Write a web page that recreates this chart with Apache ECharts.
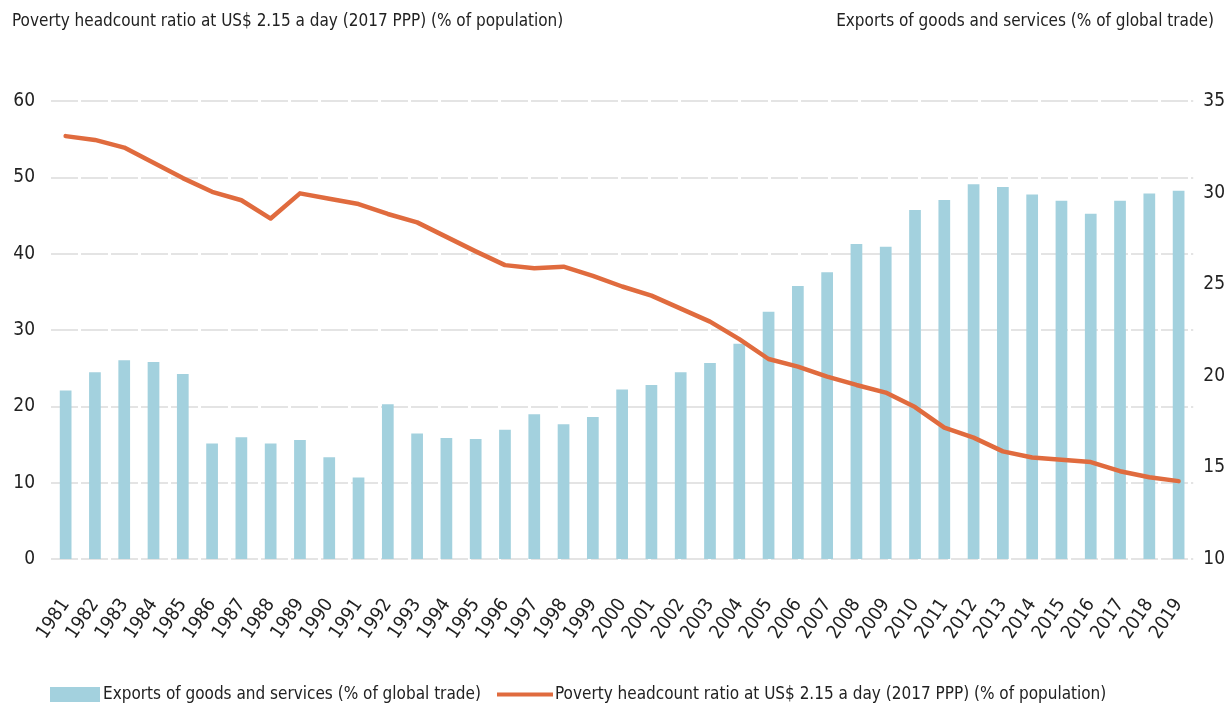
<!DOCTYPE html>
<html>
<head>
<meta charset="utf-8">
<title>Poverty and exports</title>
<script src="https://cdn.jsdelivr.net/npm/echarts@6/dist/echarts.min.js"></script>
<style>
  html, body { margin: 0; padding: 0; background: #fff; }
  #main { width: 1228px; height: 710px; }
</style>
</head>
<body>
<div id="main"></div>
<script>
var years = ['1981','1982','1983','1984','1985','1986','1987','1988','1989','1990',
  '1991','1992','1993','1994','1995','1996','1997','1998','1999','2000',
  '2001','2002','2003','2004','2005','2006','2007','2008','2009','2010',
  '2011','2012','2013','2014','2015','2016','2017','2018','2019'];

// exports of goods and services, % of global trade (right axis)
var exportsShare = [19.2, 20.2, 20.85, 20.75, 20.1, 16.3, 16.65, 16.3, 16.5, 15.55,
  14.45, 18.45, 16.85, 16.6, 16.55, 17.05, 17.9, 17.35, 17.75, 19.25,
  19.5, 20.2, 20.7, 21.75, 23.5, 24.9, 25.65, 27.2, 27.05, 29.05,
  29.6, 30.45, 30.3, 29.9, 29.55, 28.85, 29.55, 29.95, 30.1];

// poverty headcount ratio at US$ 2.15 a day, % of population (left axis)
var poverty = [55.4, 54.9, 53.9, 51.9, 49.9, 48.1, 47.0, 44.6, 47.9, 47.2,
  46.5, 45.2, 44.1, 42.2, 40.3, 38.5, 38.1, 38.3, 37.1, 35.7,
  34.5, 32.8, 31.1, 28.8, 26.2, 25.2, 23.9, 22.8, 21.8, 19.9,
  17.2, 15.9, 14.1, 13.3, 13.0, 12.7, 11.5, 10.7, 10.2];

var leftTicks = { min: 0, max: 60, interval: 10 };
var rightTicks = { min: 10, max: 35, interval: 5 };

var exportsName = 'Exports of goods and services (% of global trade)';
var povertyName = 'Poverty headcount ratio at US$ 2.15 a day (2017 PPP) (% of population)';

var font = '"Liberation Sans Narrow", "DejaVu Sans Condensed", "Liberation Sans", sans-serif';
var barColor = '#a3d1de';
var lineColor = '#e06b3e';

var myChart = echarts.init(document.getElementById('main'));
myChart.setOption({
  animation: false,
  textStyle: { fontFamily: font },
  title: [{
    text: povertyName,
    left: 7, top: 8,
    textStyle: { fontFamily: font, fontSize: 17, fontWeight: 'normal', color: '#222' }
  }, {
    text: exportsName,
    right: 9, top: 8,
    textStyle: { fontFamily: font, fontSize: 17, fontWeight: 'normal', color: '#222' }
  }],
  legend: [{
    data: [{ name: exportsName, icon: 'rect' }],
    left: 45, top: 681,
    itemWidth: 50, itemHeight: 15, itemGap: 0,
    textStyle: { fontFamily: font, fontSize: 17, color: '#222', padding: [0, 0, 0, -2] }
  }, {
    data: [{ name: povertyName, icon: 'rect' }],
    left: 492, top: 681,
    itemWidth: 56, itemHeight: 4, itemGap: 0,
    textStyle: { fontFamily: font, fontSize: 17, color: '#222', padding: [0, 0, 0, -3] }
  }],
  grid: { left: 51, right: 34, top: 101, bottom: 151, containLabel: false },
  xAxis: {
    type: 'category',
    data: years,
    boundaryGap: true,
    axisLine: { show: false },
    axisTick: { show: false },
    axisLabel: { rotate: 56, margin: 42, fontSize: 19, color: '#222', interval: 0 }
  },
  yAxis: [{
    type: 'value',
    position: 'left',
    min: leftTicks.min, max: leftTicks.max, interval: leftTicks.interval,
    axisLine: { show: false },
    axisTick: { show: false },
    axisLabel: { margin: 16, fontSize: 19, color: '#222' },
    splitLine: { lineStyle: { color: '#dcdcdc', width: 1.5, type: [27, 3] } }
  }, {
    type: 'value',
    position: 'right',
    min: rightTicks.min, max: rightTicks.max, interval: rightTicks.interval,
    axisLine: { show: false },
    axisTick: { show: false },
    axisLabel: { margin: 10, fontSize: 19, color: '#222' },
    splitLine: { show: false }
  }],
  series: [{
    name: exportsName,
    type: 'bar',
    yAxisIndex: 1,
    data: exportsShare,
    barWidth: '40%',
    itemStyle: { color: barColor }
  }, {
    name: povertyName,
    type: 'line',
    yAxisIndex: 0,
    data: poverty,
    symbol: 'none',
    lineStyle: { color: lineColor, width: 4.5, join: 'round', cap: 'round' },
    itemStyle: { color: lineColor }
  }]
});
</script>
</body>
</html>
